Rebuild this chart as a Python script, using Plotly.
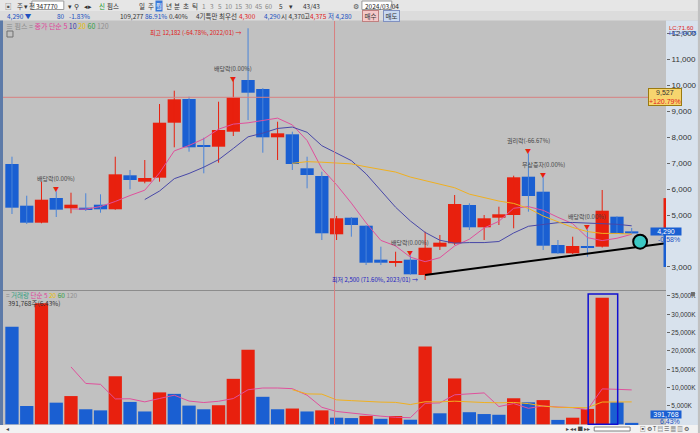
import pandas as pd
import plotly.graph_objects as go

# 핌스(347770) monthly candles, 2020/09 ~ 2024/03
months = pd.date_range('2020-09-01', '2024-03-01', freq='MS').strftime('%Y/%m').tolist()
opens = [6962, 5358, 4704, 5654, 5258, 5281, 5396, 5219, 6527, 6281, 6435, 8550, 9462, 7692, 7627,
         8204, 10192, 9846, 7988, 8104, 6796, 6500, 4258, 4896, 4588, 3281, 3165, 3281, 2692, 3781,
         3912, 5385, 4527, 4896, 5000, 6473, 5896, 3846, 3527, 3808, 3781, 4935, 4370]
highs = [7242, 5742, 6281, 5935, 5858, 5835, 5796, 7242, 6731, 7115, 9269, 9781, 9550, 7973, 9358,
         10190, 12182, 9880, 8588, 8204, 7242, 6665, 4962, 4920, 4600, 3781, 3588, 3462, 4358, 4231,
         5769, 5450, 5000, 5319, 6512, 7385, 6473, 4038, 4165, 4500, 5962, 4950, 4500]
lows = [5038, 4654, 4681, 4923, 5065, 5154, 5088, 5200, 5988, 6219, 6281, 7604, 7435, 6604, 7012,
        8038, 8654, 7396, 7115, 6731, 6027, 4038, 4038, 4165, 3077, 3077, 3012, 2700, 2500, 3654,
        3846, 4423, 4038, 4615, 4488, 5127, 3654, 3500, 3500, 3396, 3750, 4269, 4280]
closes = [5281, 4704, 5588, 5204, 5396, 5219, 5219, 6565, 6346, 6423, 8550, 9450, 7604, 7627, 8269,
          9527, 9704, 7988, 8142, 6962, 6538, 4296, 4873, 4615, 3165, 3165, 3231, 2719, 3742, 3935,
          5423, 4527, 4873, 5027, 6450, 5731, 3819, 3527, 3808, 3758, 5165, 4269, 4290]
# volume in thousand shares
volumes = [26600, 5000, 33000, 5900, 7700, 4100, 3800, 13100, 6100, 3500, 8700, 8300, 5100, 4100, 5200,
           12400, 20300, 7500, 4100, 4300, 3500, 3800, 1800, 1700, 2300, 1500, 2260, 1250, 21200, 3000,
           12500, 3300, 2800, 2600, 7100, 6000, 6600, 1200, 1800, 4200, 34500, 6000, 391.768]

event_idx = [3, 15, 27, 35, 36, 39]
event_labels = ['배당락(0.00%)', '배당락(0.00%)', '배당락(0.00%)', '권리락(-66.67%)', '무상증자(0.00%)', '배당락(0.00%)']

price_ticks = [3000, 5000, 6000, 7000, 8000, 9000, 10000, 11000, 12000]
volume_ticks = [5000, 10000, 15000, 20000, 25000, 30000, 35000]

# user drawings / crosshair on the screen
trend_x = [28, 44.32]
trend_y = [2692, 3912]
circle_x, circle_y = 42.57, 3973
cross_x, cross_y = 21.86, 9527
boxed_bar = 40

RED = '#e8200e'
BLUE = '#1a5fd2'
BLUE_WICK = '#4a84d8'
BG = '#c1c1c1'
AXIS_BG = '#d8e2ed'
W, H = 700, 433
L, R, T, B = 3, 32, 21, 8


def fx(px):
    return (px - L) / (W - L - R)


def fy(py):
    return (H - B - py) / (H - T - B)


xs = list(range(len(months)))
close_s = pd.Series(closes, dtype=float)
vol_s = pd.Series(volumes, dtype=float)
up = [c >= o for o, c in zip(opens, closes)]

fig = go.Figure()

# candles: wicks + bodies
for flag, color in ((True, RED), (False, BLUE_WICK)):
    wx, wy = [], []
    for i in xs:
        if up[i] == flag:
            wx += [i, i, None]
            wy += [lows[i], highs[i], None]
    fig.add_trace(go.Scatter(x=wx, y=wy, mode='lines', line=dict(color=color, width=1),
                             xaxis='x', yaxis='y', hoverinfo='skip'))
fig.add_trace(go.Bar(
    x=xs, base=[min(o, c) for o, c in zip(opens, closes)],
    y=[max(abs(c - o), 40) for o, c in zip(opens, closes)],
    width=0.9, marker=dict(color=[RED if u else BLUE for u in up], line=dict(width=0)),
    customdata=list(zip(months, opens, highs, lows, closes)),
    hovertemplate='%{customdata[0]}<br>O %{customdata[1]:,}<br>H %{customdata[2]:,}'
                  '<br>L %{customdata[3]:,}<br>C %{customdata[4]:,}<extra></extra>',
    xaxis='x', yaxis='y'
))

ma_colors = {5: '#e0509c', 10: '#4848a8', 20: '#f0b020'}
for n, c in ma_colors.items():
    fig.add_trace(go.Scatter(x=xs, y=close_s.rolling(n).mean(), mode='lines',
                             line=dict(color=c, width=1), xaxis='x', yaxis='y', hoverinfo='skip'))

fig.add_trace(go.Scatter(x=trend_x, y=trend_y, mode='lines', line=dict(color='black', width=2),
                         xaxis='x', yaxis='y', hoverinfo='skip'))

vol_colors = [BLUE] + [RED if volumes[i] > volumes[i - 1] else BLUE for i in range(1, len(volumes))]
fig.add_trace(go.Bar(x=xs, y=volumes, marker=dict(color=vol_colors, line=dict(width=0)), width=0.9,
                     xaxis='x2', yaxis='y2'))
for n, c in {5: '#e0509c', 20: '#f0b020'}.items():
    fig.add_trace(go.Scatter(x=xs, y=vol_s.rolling(n).mean(), mode='lines',
                             line=dict(color=c, width=1), xaxis='x2', yaxis='y2', hoverinfo='skip'))

xr = [(L - 12) / 14.8, (W - R - 12) / 14.8]
tickfont = dict(family='Liberation Sans', size=8, color='#333')

fig.update_layout(
    width=W, height=H,
    margin=dict(l=L, r=R, t=T, b=B),
    paper_bgcolor=BG, plot_bgcolor=BG,
    showlegend=False, barmode='overlay',
    font=dict(family='Noto Sans CJK KR', size=7, color='#333'),
    xaxis=dict(domain=[0, 1], range=xr, visible=False, anchor='y'),
    xaxis2=dict(domain=[0, 1], range=xr, visible=False, anchor='y2'),
    yaxis=dict(domain=[fy(290), 1], range=[2115, 12462], side='right', showgrid=False, zeroline=False,
               tickvals=price_ticks, ticktext=[f'{v:,}' for v in price_ticks],
               ticks='outside', ticklen=3, tickcolor='#666', tickfont=tickfont, anchor='x'),
    yaxis2=dict(domain=[0, fy(291)], range=[-190, 36350], side='right', showgrid=False, zeroline=False,
                tickvals=volume_ticks, ticktext=[f'{v:,}K' for v in volume_ticks],
                ticks='outside', ticklen=3, tickcolor='#666',
                tickfont=dict(family='Liberation Sans', size=6.5, color='#333'), anchor='x2'),
)

shapes = []
ann = []

# frame pieces: toolbar, info row, right axis panel, left border, scroll bar
shapes.append(dict(type='rect', xref='paper', yref='paper', x0=fx(0), x1=fx(W), y0=fy(11), y1=fy(0),
                   fillcolor='#e6e6e6', line=dict(width=0), layer='below'))
shapes.append(dict(type='rect', xref='paper', yref='paper', x0=fx(0), x1=fx(W), y0=fy(20.5), y1=fy(11),
                   fillcolor='#dcdcdc', line=dict(width=0), layer='below'))
for x0, x1 in ((32, 64), (363, 393)):
    shapes.append(dict(type='rect', xref='paper', yref='paper', x0=fx(x0), x1=fx(x1), y0=fy(9.5), y1=fy(1),
                       fillcolor='white', line=dict(color='#9a9a9a', width=1)))
shapes.append(dict(type='rect', xref='paper', yref='paper', x0=1, x1=fx(W), y0=0, y1=fy(20.5),
                   fillcolor=AXIS_BG, line=dict(width=0), layer='below'))
shapes.append(dict(type='rect', xref='paper', yref='paper', x0=fx(0), x1=fx(3), y0=0, y1=fy(20.5),
                   fillcolor='#5d7aa8', line=dict(width=0)))
shapes.append(dict(type='rect', xref='paper', yref='paper', x0=fx(0), x1=fx(W), y0=fy(H), y1=fy(425),
                   fillcolor='#f2f2f2', line=dict(width=0)))
shapes.append(dict(type='rect', xref='paper', yref='paper', x0=fx(596), x1=fx(632), y0=fy(431), y1=fy(427),
                   fillcolor='white', line=dict(color='#808080', width=1)))
shapes.append(dict(type='line', xref='paper', yref='paper', x0=0, x1=1, y0=fy(290.5), y1=fy(290.5),
                   line=dict(color='#8c8c8c', width=1)))
shapes.append(dict(type='rect', xref='paper', yref='paper', x0=fx(7), x1=fx(13), y0=fy(37), y1=fy(31),
                   line=dict(color='#707070', width=1)))
shapes.append(dict(type='rect', xref='paper', yref='paper', x0=fx(693), x1=fx(697), y0=fy(296), y1=fy(292),
                   fillcolor='#707070', line=dict(width=0)))

# crosshair
shapes.append(dict(type='line', xref='x', yref='paper', x0=cross_x, x1=cross_x, y0=0, y1=1,
                   line=dict(color='#d88080', width=1)))
shapes.append(dict(type='line', xref='paper', yref='y', x0=0, x1=1, y0=cross_y, y1=cross_y,
                   line=dict(color='#d88080', width=1)))

# user marks
shapes.append(dict(type='circle', xref='x', yref='y', x0=circle_x - 0.47, x1=circle_x + 0.47,
                   y0=circle_y - 270, y1=circle_y + 270, fillcolor='#3cc8c4', line=dict(color='black', width=2)))
shapes.append(dict(type='rect', xref='x', yref='y2', x0=boxed_bar - 0.95, x1=boxed_bar + 1.05,
                   y0=0, y1=35530, line=dict(color='#1010d0', width=1.5)))
shapes.append(dict(type='rect', xref='paper', yref='y', x0=fx(665.5), x1=fx(668), y0=4300, y1=5650,
                   fillcolor=RED, line=dict(width=0)))
shapes.append(dict(type='rect', xref='paper', yref='y', x0=fx(665.5), x1=fx(668), y0=3000, y1=4230,
                   fillcolor=BLUE, line=dict(width=0)))

# legends
ann.append(dict(xref='paper', yref='paper', x=fx(4), y=fy(25.5), xanchor='left', yanchor='middle',
                showarrow=False, font=dict(size=7),
                text="<span style='color:#888'>≡ 핌스 = </span><span style='color:#e0409a'>종가 단순 5</span> "
                     "<span style='color:#3a3ab0'>10</span> <span style='color:#e8c000'>20</span> "
                     "<span style='color:#30a040'>60</span> <span style='color:#909090'>120</span>"))
ann.append(dict(xref='paper', yref='paper', x=fx(4), y=fy(294.5), xanchor='left', yanchor='middle',
                showarrow=False, font=dict(size=6.5),
                text="<span style='color:#888'>= </span><span style='color:#30a080'>거래량</span> "
                     "<span style='color:#e0409a'>단순 5</span> <span style='color:#e8c000'>20</span> "
                     "<span style='color:#30a040'>60</span> <span style='color:#909090'>120</span>"))
ann.append(dict(xref='paper', yref='paper', x=fx(6), y=fy(302.5), xanchor='left', yanchor='middle',
                showarrow=False, font=dict(size=6.5, color='#333'), text=f'{volumes[-1] * 1000:,.0f}주(6.43%)'))

# high / low markers
hi = highs.index(max(highs))
lo = lows.index(min(lows))
ann.append(dict(x=hi, y=highs[hi], xref='x', yref='y', xanchor='right', yanchor='middle', xshift=-5, yshift=-4,
                showarrow=False, font=dict(size=6, color='#e02020'),
                text=f'최고 {highs[hi]:,} (-64.78%, {months[hi]}) →'))
ann.append(dict(x=lo, y=lows[lo], xref='x', yref='y', xanchor='right', yanchor='middle', xshift=-5,
                showarrow=False, font=dict(size=6, color='#2020c0'),
                text=f'최저 {lows[lo]:,} (71.60%, {months[lo]}) →'))

for i, label in zip(event_idx, event_labels):
    ann.append(dict(x=i, y=highs[i], xref='x', yref='y', yanchor='middle', yshift=12, showarrow=False,
                    font=dict(size=6, color='#444'), text=label))
    ann.append(dict(x=i, y=highs[i], xref='x', yref='y', yanchor='middle', yshift=2, showarrow=False,
                    font=dict(size=6, color=RED), text='▼'))

# right axis boxes
ann.append(dict(xref='paper', yref='y', x=fx(684), y=cross_y, showarrow=False, bgcolor='#f7d56e',
                bordercolor='#9a7a10', borderwidth=1, borderpad=0, font=dict(family='Liberation Sans', size=7),
                text=f"{cross_y:,}<br><span style='color:#e02020'>+120.79%</span>"))
ann.append(dict(xref='paper', yref='y', x=fx(684), y=closes[-1], showarrow=False, bgcolor=BLUE,
                borderpad=0, width=30, font=dict(family='Liberation Sans', size=7, color='white'),
                text=f'{closes[-1]:,}', yshift=2))
ann.append(dict(xref='paper', yref='y', x=fx(684), y=closes[-1], showarrow=False, yshift=-6,
                font=dict(family='Liberation Sans', size=7, color='#2050c0'), text='-0.58%'))
ann.append(dict(xref='paper', yref='y2', x=fx(684), y=volumes[-1], showarrow=False, bgcolor=BLUE,
                borderpad=0, width=30, yshift=8, font=dict(family='Liberation Sans', size=7, color='white'),
                text=f'{volumes[-1] * 1000:,.0f}'))
ann.append(dict(xref='paper', yref='y2', x=fx(684), y=volumes[-1], showarrow=False, yshift=1,
                font=dict(family='Liberation Sans', size=7, color='#2050c0'), text='6.43%'))
ann.append(dict(xref='paper', yref='paper', x=fx(669), y=fy(23), xanchor='left', showarrow=False,
                font=dict(family='Liberation Sans', size=6, color='#e02020'), text='LC:71.60'))
ann.append(dict(xref='paper', yref='paper', x=fx(669), y=fy(27.5), xanchor='left', showarrow=False,
                font=dict(family='Liberation Sans', size=6, color='#2050c0'), text='HC:-64.78'))

# toolbar texts
tb = [(3, '▣', '#555'), (15, '주 ▾', '#333'), (27, '전', '#333'), (34, '347770', '#222'), (66, '▾', '#333'),
      (72, '⚲', '#333'), (82, '◂▸', '#333'), (97, '신', '#1a9a30'), (105, '핌스', '#222'),
      (137, '일', '#333'), (146, '주', '#333'), (164, '년', '#333'), (173, '분', '#333'),
      (182, '초', '#333'), (191, '틱', '#333'),
      (201, '1', '#888'), (209, '3', '#888'), (217, '5', '#888'), (224, '10', '#888'), (234, '15', '#888'),
      (244, '30', '#888'), (254, '45', '#888'), (264, '60', '#888'), (278, '5', '#333'), (288, '▾', '#333'),
      (302, '43/43', '#333'), (352, '⚙', '#555'), (364, '2024/03/04', '#222')]
for x, t, c in tb:
    ann.append(dict(xref='paper', yref='paper', x=fx(x), y=fy(5.5), xanchor='left', yanchor='middle',
                    showarrow=False, font=dict(size=6.5, color=c), text=t))
ann.append(dict(xref='paper', yref='paper', x=fx(155), y=fy(5.5), xanchor='left', yanchor='middle',
                showarrow=False, bgcolor='#3a78d8', borderpad=0, font=dict(size=6.5, color='white'), text='월'))
info = [(5, '4,290 ▼', '#2050c0'), (55, '80', '#2050c0'), (67, '-1.83%', '#2050c0'), (118, '109,277', '#333'),
        (143, '86.91%', '#2050c0'), (167, '0.40%', '#333'), (195, '4기특만 최우선', '#333'),
        (238, '4,300', '#e02020'), (263, '4,290', '#2050c0'), (280, '시 4,370', '#333'),
        (303, '고', '#333'), (309, '4,375', '#e02020'), (327, '저 4,280', '#2050c0')]
for x, t, c in info:
    ann.append(dict(xref='paper', yref='paper', x=fx(x), y=fy(16), xanchor='left', yanchor='middle',
                    showarrow=False, font=dict(size=6.5, color=c), text=t))
ann.append(dict(xref='paper', yref='paper', x=fx(363), y=fy(16), xanchor='left', yanchor='middle',
                showarrow=False, bgcolor='#f4c8c8', bordercolor='#c08080', borderwidth=1, borderpad=0,
                font=dict(size=6.5, color='#333'), text=' 매수 '))
ann.append(dict(xref='paper', yref='paper', x=fx(384), y=fy(16), xanchor='left', yanchor='middle',
                showarrow=False, bgcolor='#c8d8f0', bordercolor='#8090c0', borderwidth=1, borderpad=0,
                font=dict(size=6.5, color='#333'), text=' 매도 '))

# scroll bar glyphs
for x, t in ((4, '◂'), (566, '▸ ◂◂ ■ ▸▸'), (640, '▣ ⚙ T ▤ ☰ ▦ ▥ ⚙')):
    ann.append(dict(xref='paper', yref='paper', x=fx(x), y=fy(429), xanchor='left', yanchor='middle',
                    showarrow=False, font=dict(size=5.5, color='#444'), text=t))

fig.update_layout(shapes=shapes, annotations=ann)
fig.write_html('out.html', config={'displayModeBar': False},
               post_script="document.body.style.margin='0';")
